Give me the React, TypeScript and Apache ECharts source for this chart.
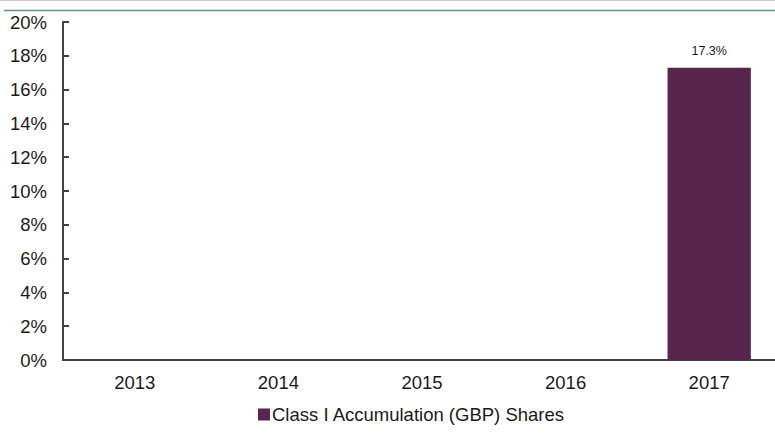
import React, { useEffect, useRef } from "react";
import * as echarts from "echarts";

const categories = ["2013", "2014", "2015", "2016", "2017"];
const seriesName = "Class I Accumulation (GBP) Shares";
const values: (number | null)[] = [null, null, null, null, 17.3];
const yMin = 0;
const yMax = 20;
const yInterval = 2;

export default function App() {
  const ref = useRef<HTMLDivElement>(null);
  useEffect(() => {
    if (!ref.current) return;
    const chart = echarts.init(ref.current, null, { renderer: "svg" });
    const font = "'Liberation Sans', Arial, sans-serif";
    chart.setOption({
      animation: false,
      textStyle: { fontFamily: font, color: "#1a1a1a" },
      graphic: [
        { type: "line", shape: { x1: 0, y1: 0.5, x2: 775, y2: 0.5 }, style: { stroke: "#c8c8c8", lineWidth: 1 } },
        { type: "line", shape: { x1: 4, y1: 10.5, x2: 775, y2: 10.5 }, style: { stroke: "#5f8d98", lineWidth: 1.3 } },
      ],
      grid: { left: 63, top: 22, width: 718, height: 338, containLabel: false, outerBoundsMode: "none" },
      legend: {
        top: 400,
        left: 253,
        icon: "rect",
        itemWidth: 12,
        itemHeight: 12,
        textStyle: { fontSize: 18.5, color: "#1a1a1a", fontFamily: font, padding: [0, 0, 0, -3] },
        data: [seriesName],
      },
      xAxis: {
        type: "category",
        data: categories,
        axisLine: { lineStyle: { color: "#404040", width: 2 } },
        axisTick: { alignWithLabel: true, length: 4, lineStyle: { color: "#404040", width: 2 } },
        axisLabel: { fontSize: 18.5, color: "#1a1a1a", margin: 13, fontFamily: font },
        splitLine: { show: false },
      },
      yAxis: {
        type: "value",
        min: yMin,
        max: yMax,
        interval: yInterval,
        axisLine: { show: true, lineStyle: { color: "#404040", width: 2 } },
        axisTick: { show: true, inside: true, length: 6, lineStyle: { color: "#404040", width: 2 } },
        axisLabel: { fontSize: 18.5, color: "#1a1a1a", margin: 16, formatter: (v: number) => `${v}%`, fontFamily: font },
        splitLine: { show: false },
      },
      series: [
        {
          name: seriesName,
          type: "bar",
          data: values,
          barWidth: "58%",
          itemStyle: { color: "#58254f" },
          label: {
            show: true,
            position: "top",
            distance: 10,
            fontSize: 12.5,
            color: "#1a1a1a",
            fontFamily: font,
            formatter: (p: any) => `${Number(p.value).toFixed(1)}%`,
          },
        },
      ],
    });
    return () => chart.dispose();
  }, []);
  return <div ref={ref} style={{ position: "absolute", left: 0, top: 0, width: 775, height: 433 }} />;
}
